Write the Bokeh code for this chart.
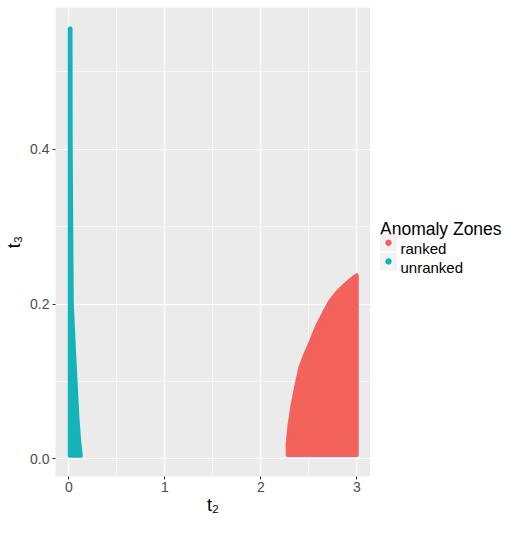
from bokeh.plotting import figure
from bokeh.models import Range1d, FixedTicker, NumeralTickFormatter
from bokeh.layouts import row
from bokeh.core.properties import value
from bokeh.embed import file_html
from bokeh.resources import INLINE

# ---- data (outline of each anomaly zone) ----
ranked_t2 = [2.28, 2.28, 2.30, 2.33, 2.37, 2.41, 2.46, 2.52, 2.585, 2.655, 2.725, 2.81, 2.915, 2.985, 3.0, 3.0]
ranked_t3 = [0.005, 0.020, 0.044, 0.069, 0.094, 0.117, 0.134, 0.151, 0.171, 0.188, 0.204, 0.217, 0.229, 0.236, 0.237, 0.005]

unranked_t2 = [0.01, 0.01, 0.018, 0.02, 0.031, 0.056, 0.073, 0.091, 0.108, 0.125]
unranked_t3 = [0.004, 0.556, 0.556, 0.40, 0.202, 0.135, 0.094, 0.052, 0.023, 0.004]

zone_labels = ["ranked", "unranked"]
zone_colors = ["#F4625C", "#13B3B7"]
legend_title = "Anomaly Zones"

x_ticks = [0, 1, 2, 3]
x_minor = [0.5, 1.5, 2.5]
y_ticks = [0.0, 0.2, 0.4]
y_minor = [0.1, 0.3, 0.5]

FONT = "Liberation Sans"
H = 517
W1 = 370
W2 = 134
TOP, BOTTOM = 7, 40

p = figure(width=W1, height=H,
           x_range=Range1d(-0.1385, 3.143), y_range=Range1d(-0.0228, 0.583),
           output_backend="svg", toolbar_location=None,
           min_border_left=55, min_border_right=0, min_border_top=TOP, min_border_bottom=BOTTOM)
p.background_fill_color = "#EBEBEB"
p.border_fill_color = "white"
p.outline_line_color = None

p.xaxis.ticker = FixedTicker(ticks=x_ticks, minor_ticks=x_minor)
p.yaxis.ticker = FixedTicker(ticks=y_ticks, minor_ticks=y_minor)
p.xaxis.formatter = NumeralTickFormatter(format="0")
p.yaxis.formatter = NumeralTickFormatter(format="0.0")

for g in (p.xgrid, p.ygrid):
    g.grid_line_color = "white"
    g.grid_line_width = 1.2
    g.minor_grid_line_color = "white"
    g.minor_grid_line_width = 0.6

for ax in (p.xaxis, p.yaxis):
    ax.axis_line_color = None
    ax.major_tick_line_color = "#333333"
    ax.major_tick_out = 3
    ax.major_tick_in = 0
    ax.minor_tick_out = 0
    ax.minor_tick_in = 0
    ax.major_label_text_font = FONT
    ax.major_label_text_font_size = "14px"
    ax.major_label_text_color = "#4D4D4D"
    ax.axis_label_text_font = FONT
    ax.axis_label_text_font_size = "18px"
    ax.axis_label_text_font_style = "normal"
    ax.axis_label_text_color = "black"

p.xaxis.axis_label = "t\u2082"
p.yaxis.axis_label = "t\u2083"
p.xaxis.major_label_standoff = 2
p.xaxis.axis_label_standoff = 0
p.yaxis.major_label_standoff = 3
p.yaxis.axis_label_standoff = 3

p.patch(x=ranked_t2, y=ranked_t3, fill_color=zone_colors[0], line_color=zone_colors[0],
        line_width=4, line_join="round")
p.patch(x=unranked_t2, y=unranked_t3, fill_color=zone_colors[1], line_color=zone_colors[1],
        line_width=4, line_join="round")

# ---- legend panel (its frame is aligned with the main frame; ranges in page pixels) ----
q = figure(width=W2, height=H, x_range=Range1d(W1, W1 + W2), y_range=Range1d(H - BOTTOM, TOP),
           x_axis_type=None, y_axis_type=None, title=None,
           output_backend="svg", toolbar_location=None,
           min_border_left=0, min_border_right=0, min_border_top=TOP, min_border_bottom=BOTTOM)
q.grid.visible = False
q.outline_line_color = None
q.background_fill_color = "white"
q.border_fill_color = "white"

mid = (TOP + H - BOTTOM) / 2
key_x = W1 + 18
key_y = [mid + 0.8 + 18.7 * i for i in range(len(zone_labels))]
q.text(x=[W1 + 9.5], y=[mid - 13], text=[legend_title], text_baseline="alphabetic",
       text_font=value(FONT), text_font_size="17.5px", text_color="black")
q.rect(x=[key_x] * len(zone_labels), y=key_y, width=17, height=17,
       fill_color="#F2F2F2", line_color=None)
q.scatter(x=[key_x] * len(zone_labels), y=key_y, size=5.5, color=zone_colors)
q.text(x=[key_x + 12] * len(zone_labels), y=[k + 5.7 for k in key_y], text=zone_labels,
       text_baseline="alphabetic", text_font=value(FONT), text_font_size="15px",
       text_color="black")

layout = row(p, q)
open("out.html", "w").write(file_html(layout, INLINE))
